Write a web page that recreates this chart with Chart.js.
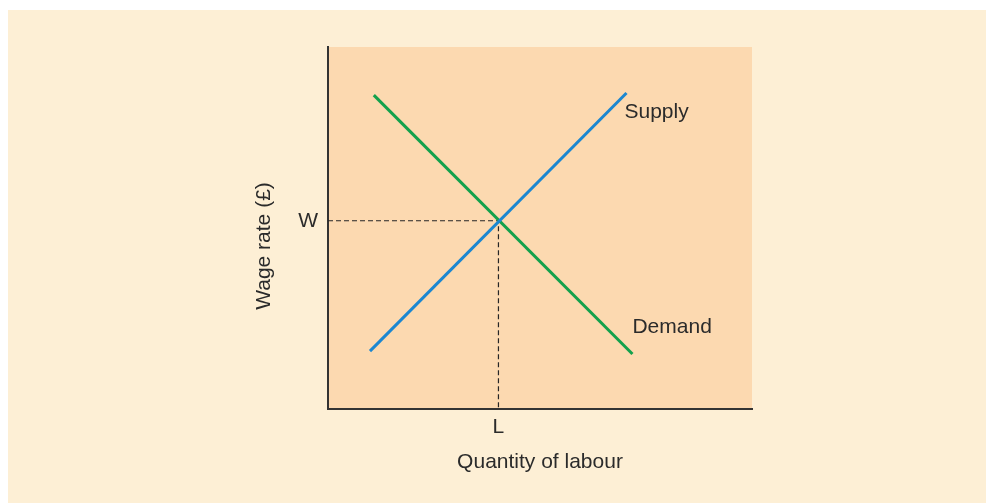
<!DOCTYPE html>
<html>
<head>
<meta charset="utf-8">
<script src="https://cdn.jsdelivr.net/npm/chart.js@4.4.0/dist/chart.umd.min.js"></script>
<style>
  html, body { margin: 0; padding: 0; background: #ffffff; }
  #wrap { width: 986px; height: 503px; }
</style>
</head>
<body>
<div id="wrap"><canvas id="labourChart" width="986" height="503"></canvas></div>
<script>
// ========== Labour market data (abstract units 0-100) ==========
const supplyPoints = [{ x: 9.9, y: 16.0 }, { x: 70.4, y: 87.3 }];
const demandPoints = [{ x: 10.8, y: 86.7 }, { x: 71.8, y: 15.2 }];
const equilibriumWage = 52;
const equilibriumQty = 40.2;
const xTickLabels = ['L'];
const yTickLabels = ['W'];
const yTitle = 'Wage rate (£)';

const fontFamily = '"Liberation Sans", Arial, sans-serif';
const textColor = '#2b2b2b';

// cream panel, shaded plot area, curve labels and the y title
const plotBg = {
  id: 'plotBg',
  beforeDraw(chart) {
    const { ctx, chartArea: a } = chart;
    ctx.save();
    ctx.fillStyle = '#fdefd5';
    ctx.fillRect(8, 10, chart.width - 8, chart.height - 10);
    ctx.fillStyle = '#fcd9b0';
    ctx.fillRect(a.left, a.top, a.right - a.left, a.bottom - a.top);
    ctx.restore();
  },
  afterDatasetsDraw(chart) {
    const { ctx, scales } = chart;
    ctx.save();
    ctx.fillStyle = textColor;
    ctx.font = '21px ' + fontFamily;
    ctx.textBaseline = 'middle';
    const s = supplyPoints[1], d = demandPoints[1];
    ctx.fillText('Supply', scales.x.getPixelForValue(s.x) - 2, scales.y.getPixelForValue(s.y) + 19);
    ctx.fillText('Demand', scales.x.getPixelForValue(d.x), scales.y.getPixelForValue(d.y) - 27);

    // y axis title
    ctx.translate(264, 246);
    ctx.rotate(-Math.PI / 2);
    ctx.textAlign = 'center';
    ctx.fillText(yTitle, 0, 0);
    ctx.restore();
  }
};

const ctx = document.getElementById('labourChart').getContext('2d');

new Chart(ctx, {
  type: 'line',
  data: {
    datasets: [
      {
        label: 'Supply',
        data: supplyPoints,
        borderColor: '#1b87d1',
        borderWidth: 3,
        pointRadius: 0
      },
      {
        label: 'Demand',
        data: demandPoints,
        borderColor: '#13a14c',
        borderWidth: 3,
        pointRadius: 0
      },
      {
        label: 'Equilibrium',
        data: [
          { x: 0, y: equilibriumWage },
          { x: equilibriumQty, y: equilibriumWage },
          { x: equilibriumQty, y: 0 }
        ],
        borderColor: '#262626',
        borderWidth: 1.2,
        borderDash: [5, 3],
        pointRadius: 0
      }
    ]
  },
  options: {
    responsive: false,
    animation: false,
    layout: { padding: { left: 248, right: 234, top: 47, bottom: 28 } },
    plugins: {
      legend: { display: false },
      tooltip: { enabled: false }
    },
    scales: {
      x: {
        type: 'linear',
        min: 0,
        max: 100,
        grid: { display: false, drawTicks: false },
        border: { display: true, color: '#333333', width: 2 },
        afterBuildTicks(scale) { scale.ticks = [{ value: equilibriumQty }]; },
        afterFit(scale) { scale.height = 66; },
        ticks: {
          autoSkip: false,
          maxRotation: 0,
          padding: 6,
          color: textColor,
          font: { family: fontFamily, size: 21 },
          callback: () => xTickLabels[0]
        },
        title: {
          display: true,
          text: 'Quantity of labour',
          color: textColor,
          font: { family: fontFamily, size: 21 },
          padding: { top: 6, bottom: 0 }
        }
      },
      y: {
        type: 'linear',
        min: 0,
        max: 100,
        grid: { display: false, drawTicks: false },
        border: { display: true, color: '#333333', width: 2 },
        afterBuildTicks(scale) { scale.ticks = [{ value: equilibriumWage }]; },
        afterFit(scale) { scale.width = 80; },
        ticks: {
          autoSkip: false,
          padding: 10,
          color: textColor,
          font: { family: fontFamily, size: 21 },
          callback: () => yTickLabels[0]
        }
      }
    }
  },
  plugins: [plotBg]
});
</script>
</body>
</html>
